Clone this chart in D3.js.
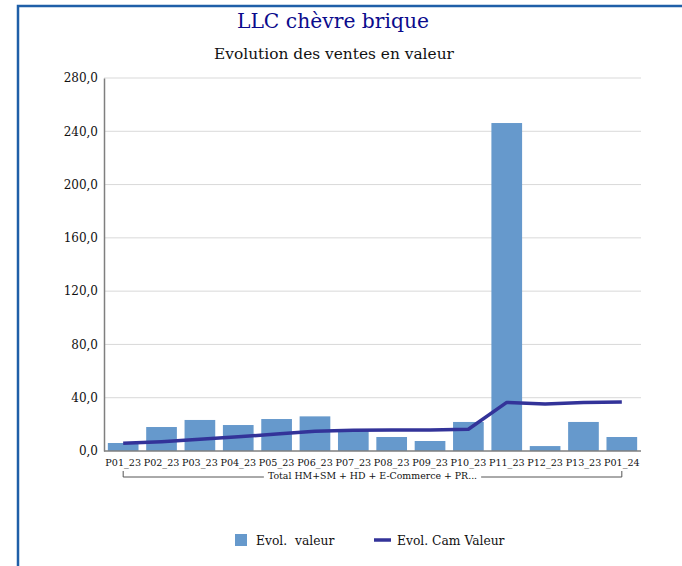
<!DOCTYPE html>
<html lang="fr">
<head>
<meta charset="utf-8">
<script src="https://d3js.org/d3.v7.min.js"></script>
<style>
  body { margin: 0; background: #fff; }
  svg { display: block; }
  svg text { font-family: "DejaVu Serif", serif; }
</style>
</head>
<body>
<script>
  // categories and values
  var periods = ["P01_23", "P02_23", "P03_23", "P04_23", "P05_23", "P06_23", "P07_23",
                 "P08_23", "P09_23", "P10_23", "P11_23", "P12_23", "P13_23", "P01_24"];
  var evolValeur = [6.0, 18.0, 23.3, 19.5, 24.0, 26.0, 15.8, 10.5, 7.5, 21.8, 246.2, 3.7, 21.8, 10.5];
  var evolCamValeur = [5.8, 7.0, 8.8, 10.7, 12.7, 14.8, 15.5, 15.8, 15.8, 16.3, 36.5, 35.3, 36.5, 36.8];
  var yTicks = [0, 40, 80, 120, 160, 200, 240, 280];
  var groupLabel = "Total HM+SM + HD + E-Commerce + PR...";

  var width = 682, height = 566;
  var margin = {left: 104, right: 41, top: 78, bottom: 115};

  var svg = d3.select("body").append("svg")
      .attr("width", width)
      .attr("height", height);

  // frame, only top and left edges are visible
  svg.append("rect")
      .attr("x", 18).attr("y", 6)
      .attr("width", 700).attr("height", 600)
      .attr("fill", "none")
      .attr("stroke", "#1f5fa8")
      .attr("stroke-width", 2.5);

  svg.append("text")
      .attr("x", 333).attr("y", 28)
      .attr("text-anchor", "middle")
      .attr("font-size", 20.3)
      .attr("fill", "#0b0b8c")
      .text("LLC chèvre brique");

  svg.append("text")
      .attr("x", 334).attr("y", 59)
      .attr("text-anchor", "middle")
      .attr("font-size", 15.4)
      .attr("fill", "#111")
      .text("Evolution des ventes en valeur");

  var x = d3.scaleBand()
      .domain(periods)
      .range([margin.left, width - margin.right])
      .paddingInner(0.2)
      .paddingOuter(0.1);

  var y = d3.scaleLinear()
      .domain([0, 280])
      .range([height - margin.bottom, margin.top]);

  // grid
  svg.append("g")
      .selectAll("line")
      .data(yTicks.slice(1))
      .enter()
      .append("line")
      .attr("x1", margin.left).attr("x2", width - margin.right)
      .attr("y1", function(d) { return y(d); })
      .attr("y2", function(d) { return y(d); })
      .attr("stroke", "#d9d9d9")
      .attr("stroke-width", 1);

  // bars
  svg.append("g")
      .selectAll("rect")
      .data(evolValeur)
      .enter()
      .append("rect")
      .attr("x", function(d, i) { return x(periods[i]); })
      .attr("width", x.bandwidth())
      .attr("y", function(d) { return y(d); })
      .attr("height", function(d) { return y(0) - y(d); })
      .attr("fill", "#6699cc");

  // line
  var line = d3.line()
      .x(function(d, i) { return x(periods[i]) + x.bandwidth() / 2; })
      .y(function(d) { return y(d); });

  svg.append("path")
      .datum(evolCamValeur)
      .attr("d", line)
      .attr("fill", "none")
      .attr("stroke", "#333399")
      .attr("stroke-width", 3.5)
      .attr("stroke-linejoin", "round");

  // y axis
  var yAxis = svg.append("g")
      .attr("transform", "translate(" + margin.left + ",0)")
      .call(d3.axisLeft(y)
          .tickValues(yTicks)
          .tickSize(0)
          .tickPadding(6)
          .tickFormat(function(d) { return d3.format(".1f")(d).replace(".", ","); }));
  yAxis.attr("font-family", null);
  yAxis.select(".domain").attr("stroke", "#7f7f7f").attr("stroke-width", 1.5);
  yAxis.selectAll("text")
      .attr("font-size", 12)
      .attr("fill", "#111");

  // x axis
  var xAxis = svg.append("g")
      .attr("transform", "translate(0," + y(0) + ")")
      .call(d3.axisBottom(x).tickSize(0).tickPadding(8));
  xAxis.attr("font-family", null);
  xAxis.select(".domain").attr("stroke", "#7f7f7f").attr("stroke-width", 1.5)
      .attr("d", "M" + margin.left + ",0H" + (width - margin.right));
  xAxis.selectAll("text")
      .attr("font-size", 9.6)
      .attr("fill", "#111");

  // group bracket
  var gx0 = x(periods[0]) + x.bandwidth() / 2;
  var gx1 = x(periods[periods.length - 1]) + x.bandwidth() / 2;
  var gy = y(0) + 26;
  var gmid = (gx0 + gx1) / 2;
  var grp = svg.append("g");
  var gtext = grp.append("text")
      .attr("x", gmid).attr("y", gy + 2)
      .attr("text-anchor", "middle")
      .attr("font-size", 9.4)
      .attr("fill", "#111")
      .text(groupLabel);
  var tw = gtext.node().getComputedTextLength() / 2 + 4;
  grp.append("path")
      .attr("d", "M" + gx0 + "," + (gy - 6) + "V" + gy + "H" + (gmid - tw) +
                 "M" + (gmid + tw) + "," + gy + "H" + gx1 + "V" + (gy - 6))
      .attr("fill", "none")
      .attr("stroke", "#555")
      .attr("stroke-width", 1);

  // legend
  var legend = svg.append("g").attr("transform", "translate(0,540)");
  legend.append("rect")
      .attr("x", 235).attr("y", -6).attr("width", 12).attr("height", 12)
      .attr("fill", "#6699cc");
  legend.append("text")
      .attr("x", 256).attr("y", 5)
      .attr("font-size", 12.3).attr("fill", "#111")
      .attr("xml:space", "preserve")
      .text("Evol.  valeur");
  legend.append("line")
      .attr("x1", 374).attr("x2", 391).attr("y1", 0).attr("y2", 0)
      .attr("stroke", "#333399").attr("stroke-width", 3.5);
  legend.append("text")
      .attr("x", 397).attr("y", 5)
      .attr("font-size", 12.3).attr("fill", "#111")
      .text("Evol. Cam Valeur");
</script>
</body>
</html>
